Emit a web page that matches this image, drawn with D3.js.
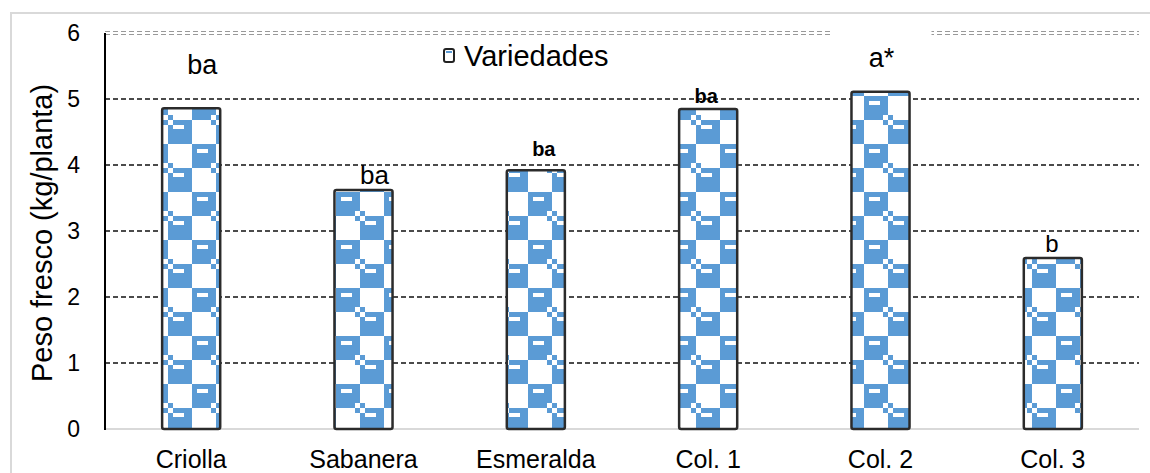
<!DOCTYPE html>
<html>
<head>
<meta charset="utf-8">
<script src="https://cdn.jsdelivr.net/npm/d3@7"></script>
<style>
    body{margin:0;background:#fff;}
    svg{display:block;font-family:"Liberation Sans", Arial, sans-serif;}
</style>
</head>
<body>
<svg id="chart"></svg>
<script>
//chart data
const varieties = ["Criolla", "Sabanera", "Esmeralda", "Col. 1", "Col. 2", "Col. 3"];
const pesoFresco = [4.86, 3.62, 3.92, 4.85, 5.11, 2.59];
const letters = ["ba", "ba", "ba", "ba", "a*", "b"];
const yTicks = [0, 1, 2, 3, 4, 5, 6];
const legendLabel = "Variedades";
const yTitle = "Peso fresco (kg/planta)";

//layout
const WIDTH = 1150, HEIGHT = 473;
const plotLeft = 105, plotRight = 1139, plotTop = 33, plotBottom = 429;
const BLUE = "#5b9bd5";

//letters were placed by hand in the original, offsets from the bar top
const letterLayout = [
    {dx: 11, dy: -34, size: 27, bold: false},
    {dx: 11, dy: -6, size: 26, bold: false},
    {dx: 8, dy: -14, size: 20, bold: true},
    {dx: -2, dy: -6, size: 20, bold: true},
    {dx: 1, dy: -25, size: 27, bold: false},
    {dx: -1, dy: -6, size: 24, bold: false}
];

let svg = d3.select("#chart")
    .attr("width", WIDTH)
    .attr("height", HEIGHT);

//checkerboard fill
let pattern = svg.append("defs").append("pattern")
    .attr("id", "checks")
    .attr("patternUnits", "userSpaceOnUse")
    .attr("width", 48)
    .attr("height", 48);
pattern.append("rect").attr("width", 48).attr("height", 48).attr("fill", "#fff");
for (let [px, py] of [[0, 0], [24, 24]]){
    pattern.append("rect").attr("x", px).attr("y", py).attr("width", 24).attr("height", 24).attr("fill", BLUE);
    pattern.append("rect").attr("x", px + 5).attr("y", py + 5).attr("width", 11).attr("height", 4).attr("fill", "#fff");
}
for (let [px, py, c] of [[19, 19, "#fff"], [24, 24, "#fff"], [24, 19, BLUE], [19, 24, BLUE], [43, 0, "#fff"], [0, 43, "#fff"]]){
    pattern.append("rect").attr("x", px).attr("y", py).attr("width", 5).attr("height", 5).attr("fill", c);
}

//outer chart border
svg.append("rect")
    .attr("x", 11).attr("y", 13)
    .attr("width", WIDTH).attr("height", HEIGHT)
    .attr("fill", "none")
    .attr("stroke", "#d9d9d9")
    .attr("stroke-width", 2);

let x = d3.scaleBand()
    .domain(varieties)
    .range([plotLeft, plotRight])
    .paddingInner(0.663)
    .paddingOuter(0.3315);
let y = d3.scaleLinear()
    .domain([0, 6])
    .range([plotBottom, plotTop]);

//gridlines
let grid = svg.append("g");
grid.selectAll("line.grid")
    .data(yTicks.filter(t => t > 0 && t < 6))
    .join("line")
    .attr("class", "grid")
    .attr("x1", plotLeft).attr("x2", plotRight)
    .attr("y1", d => y(d)).attr("y2", d => y(d))
    .attr("stroke", "#111")
    .attr("stroke-width", 1.6)
    .attr("stroke-dasharray", "5,3");
//top line is a light double dash
for (let off of [-1.5, 1.5]){
    grid.append("line")
        .attr("x1", plotLeft).attr("x2", plotRight)
        .attr("y1", y(6) + off).attr("y2", y(6) + off)
        .attr("stroke", "#999")
        .attr("stroke-width", 1)
        .attr("stroke-dasharray", "5,3");
}

//x axis baseline
svg.append("line")
    .attr("x1", plotLeft).attr("x2", plotRight)
    .attr("y1", y(0)).attr("y2", y(0))
    .attr("stroke", "#d9d9d9")
    .attr("stroke-width", 2);

//bars
svg.append("g").selectAll("rect")
    .data(pesoFresco)
    .join("rect")
    .attr("x", (d, i) => x(varieties[i]))
    .attr("y", d => y(d))
    .attr("width", x.bandwidth())
    .attr("height", d => y(0) - y(d))
    .attr("rx", 2)
    .attr("fill", "url(#checks)")
    .attr("stroke", "#2b2b2b")
    .attr("stroke-width", 2.5);

//y axis
svg.append("line")
    .attr("x1", plotLeft).attr("x2", plotLeft)
    .attr("y1", y(6)).attr("y2", y(0) + 1)
    .attr("stroke", "#000")
    .attr("stroke-width", 2);
svg.append("g").selectAll("text")
    .data(yTicks)
    .join("text")
    .attr("x", 80)
    .attr("y", d => y(d))
    .attr("dy", "0.36em")
    .attr("text-anchor", "end")
    .attr("font-size", 23)
    .attr("fill", "#000")
    .text(d => d);

//category labels
svg.append("g").selectAll("text")
    .data(varieties)
    .join("text")
    .attr("x", d => x(d) + x.bandwidth() / 2)
    .attr("y", 468)
    .attr("text-anchor", "middle")
    .attr("font-size", 25)
    .attr("fill", "#000")
    .text(d => d);

//axis title
svg.append("text")
    .attr("transform", "translate(52," + ((plotTop + plotBottom) / 2 + 2) + ") rotate(-90)")
    .attr("text-anchor", "middle")
    .attr("font-size", 29)
    .attr("fill", "#000")
    .text(yTitle);

//significance letters
let letterGroup = svg.append("g");
letters.forEach(function(l, i){
    let lay = letterLayout[i];
    let cx = x(varieties[i]) + x.bandwidth() / 2 + lay.dx;
    let by = y(pesoFresco[i]) + lay.dy;
    if (l === "a*"){
        //its text box hides a piece of the top line
        letterGroup.append("rect")
            .attr("x", cx - 50).attr("y", y(6) - 5)
            .attr("width", 100).attr("height", 50)
            .attr("fill", "#fff");
    }
    letterGroup.append("text")
        .attr("x", cx)
        .attr("y", by)
        .attr("text-anchor", "middle")
        .attr("font-size", lay.size)
        .attr("font-weight", lay.bold ? "bold" : "normal")
        .attr("fill", "#000")
        .text(l);
});

//legend
let legend = svg.append("g").attr("transform", "translate(443,48)");
legend.append("rect")
    .attr("x", 1).attr("y", 1)
    .attr("width", 10).attr("height", 13)
    .attr("rx", 2)
    .attr("fill", "#fff")
    .attr("stroke", "#222")
    .attr("stroke-width", 2);
legend.append("rect")
    .attr("x", 3).attr("y", 3)
    .attr("width", 6).attr("height", 2)
    .attr("fill", BLUE);
legend.append("text")
    .attr("x", 21)
    .attr("y", 18)
    .attr("font-size", 29)
    .attr("fill", "#000")
    .text(legendLabel);
</script>
</body>
</html>
